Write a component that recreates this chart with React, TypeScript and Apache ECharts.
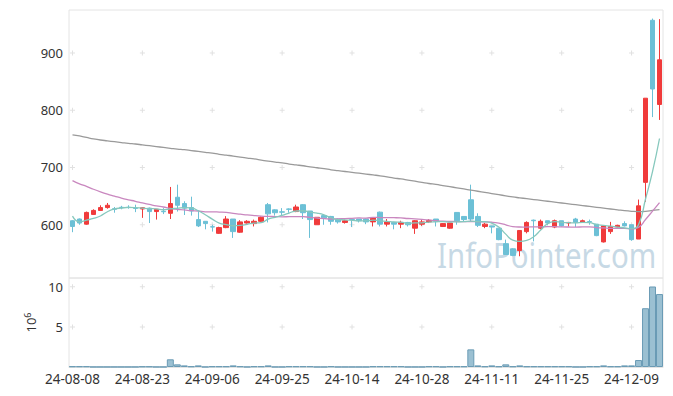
import React, { useEffect, useRef } from 'react';
import * as echarts from 'echarts';

const dates = [
  '24-08-08','24-08-09','24-08-12','24-08-13','24-08-14','24-08-16','24-08-19','24-08-20','24-08-21','24-08-22',
  '24-08-23','24-08-26','24-08-27','24-08-28','24-08-29','24-08-30','24-09-02','24-09-03','24-09-04','24-09-05',
  '24-09-06','24-09-09','24-09-10','24-09-11','24-09-12','24-09-13','24-09-19','24-09-20','24-09-23','24-09-24',
  '24-09-25','24-09-26','24-09-27','24-09-30','24-10-02','24-10-04','24-10-07','24-10-08','24-10-10','24-10-11',
  '24-10-14','24-10-15','24-10-16','24-10-17','24-10-18','24-10-21','24-10-22','24-10-23','24-10-24','24-10-25',
  '24-10-28','24-10-29','24-10-30','24-10-31','24-11-01','24-11-04','24-11-05','24-11-06','24-11-07','24-11-08',
  '24-11-11','24-11-12','24-11-13','24-11-14','24-11-15','24-11-18','24-11-19','24-11-20','24-11-21','24-11-22',
  '24-11-25','24-11-26','24-11-27','24-11-28','24-11-29','24-12-02','24-12-03','24-12-04','24-12-05','24-12-06',
  '24-12-09','24-12-10','24-12-11','24-12-12','24-12-13'
];

const opens = [
  607,610,601,618,625,630,628,630.5,630.5,629,
  627.5,629,623,623.5,620,648,637,630,609,606,
  596.5,585,595,610,587,603,602,606,635,626,
  622.5,627.5,623,635,624,600,616,614.5,610,604,
  609.5,610,610,605,622,601,604,601,604,594,
  601,605,610,597,594,621.5,614.5,643.6,614.5,597,
  598,594,567,558,555,588,608,594,607,596,
  607,603,610,604,605.5,601,570,588,596,602,
  600,575,674,957,810
];
const closes = [
  597,603,621.5,625,630,634,627,630,630,628.5,
  629.7,623,627,622.7,637,634,629,624,598,602,
  596,595,610,588,605,606,606,613,619,621,
  622,627,631,621,609,613,612,606,605,607,
  609,607,605,612,601,605,601,604,600,607,
  605,607.6,606,602,603,607,609,610,599,601,
  596,574,548,546.5,590,604,607,606,603,607,
  598,604,604,607,605,581,598,597,599,598,
  574,633,821,837,888
];
const lows = [
  587,600,600,617,624,628,621,627,628,622,
  612,603,609,618.6,610,623,617,616,596,592,
  588,584,594,577,586,602,597,605,604,616,
  616,621,622,610,577,600,600,600,602,602,
  596,604,601,597,597,597,592,594,597,584,
  598,603,597,596,593,600,606,606,596,594,
  585,573,548,545,545,585,571,592,599,594,
  597,597,596,603,600,580,569,584,595,597,
  572,575,640,788,783
];
const highs = [
  608,611,623,627,634,638,631,633,634,635,
  630.5,630,627.5,629,666,670,641,649,625,606.5,
  600,596.5,615,610,608,608,609,614.5,638,627,
  629,628.5,635,636,624,613,617,615.5,611,609,
  610,610,611,613,623,610,605,607,605,608,
  609,610,610,603,603,622,614.5,670,620,603,
  598,594,574,559,590,606,609,609,607,609,
  607,605,612,609,609,601,598,605,600,606,
  600,644,821,960,959
];

// volume, millions of shares
const volumes = [
  0.08,0.08,0.08,0.01,0.01,0.01,0.01,0.01,0.01,0.01,
  0.06,0.06,0.01,0.01,0.96,0.33,0.2,0.08,0.2,0.01,
  0.08,0.08,0.08,0.2,0.08,0.01,0.08,0.08,0.2,0.01,
  0.01,0.08,0.08,0.08,0.08,0.01,0.01,0.08,0.01,0.01,
  0.01,0.01,0.01,0.08,0.08,0.08,0.08,0.08,0.01,0.01,
  0.01,0.08,0.08,0.01,0.08,0.08,0.08,2.2,0.2,0.08,
  0.2,0.08,0.33,0.08,0.2,0.08,0.08,0.08,0.08,0.08,
  0.08,0.08,0.01,0.01,0.08,0.08,0.2,0.08,0.08,0.2,
  0.2,0.87,7.33,10.04,9.1
];

// first values of the averages (need history before the window)
const ma5Head = [615, 605, 608, 611];
const ma20Head = [677, 671.5, 667, 662, 657.5, 653.5, 650, 646.5, 643.6, 641, 638, 635.5, 633, 631, 628.5, 627, 626, 624.5, 624];
const ma120 = [
  757,755,752.5,750,748,746.5,745,743.5,742,741,
  739.5,738,736.5,735,733.5,732,731,729.5,728,726.5,
  725,723,721.5,720,718,716.5,715,713,711,709.5,
  708,706,704.5,703,701,699.5,698,696,694.5,693,
  691.5,690,688.5,687,685.5,683.5,681.5,680,678,676,
  674,672,670.5,668.5,666.5,664.5,662.5,660.5,658.5,656.5,
  654.5,652.5,650.5,648.5,647,645.5,644,642.5,641,639.5,
  638,636.5,635,633.5,632,630.5,629,627.5,626,624.5,
  623.5,623,623.5,625,626.5
];

const priceTicks = [600, 700, 800, 900];
const volTicks = [5, 10];
const labelEvery = 10;

function movingAvg(head: number[], n: number): number[] {
  return closes.map((_, i) => {
    if (i < head.length) return head[i];
    let s = 0;
    for (let k = i - n + 1; k <= i; k++) s += closes[k];
    return +(s / n).toFixed(2);
  });
}

const FONT = 'Noto Sans';
const CROSS = 'path://M0 2h5v1H0zM2 0h1v5H2z';

export default function App() {
  const ref = useRef<HTMLDivElement>(null);
  useEffect(() => {
    document.body.style.margin = '0';
    const chart = echarts.init(ref.current!, undefined, { renderer: 'svg' });
    const candles = dates.map((_, i) => [opens[i], closes[i], lows[i], highs[i]]);
    const tickIdx = dates.map((_, i) => i).filter((i) => i % labelEvery === 0);
    const priceCross: number[][] = [];
    tickIdx.forEach((i) => priceTicks.forEach((v) => priceCross.push([i, v])));
    const volCross: number[][] = [];
    tickIdx.forEach((i) => volTicks.forEach((v) => volCross.push([i, v])));

    chart.setOption({
      animation: false,
      textStyle: { fontFamily: FONT },
      grid: [
        { left: 69, right: 10, top: 10, height: 268, show: true, borderColor: '#e4e4e4', borderWidth: 1 },
        { left: 69, right: 10, top: 278, height: 89, show: true, borderColor: '#e4e4e4', borderWidth: 1 },
      ],
      xAxis: [
        {
          type: 'category', gridIndex: 0, data: dates, boundaryGap: true,
          axisLine: { show: false }, axisTick: { show: false }, axisLabel: { show: false }, splitLine: { show: false },
        },
        {
          type: 'category', gridIndex: 1, data: dates, boundaryGap: true,
          axisLine: { show: true, lineStyle: { color: '#e4e4e4' } }, axisTick: { show: false },
          axisLabel: { interval: labelEvery - 1, color: '#333', fontSize: 13.5, margin: 5, fontFamily: FONT },
          splitLine: { show: false },
        },
      ],
      yAxis: [
        {
          type: 'value', gridIndex: 0, min: 507, max: 975, scale: true,
          axisLine: { show: false }, axisTick: { show: false }, splitLine: { show: false },
          axisLabel: {
            color: '#333', fontSize: 13, margin: 6, fontFamily: FONT, showMinLabel: false, showMaxLabel: false,
            formatter: (v: number) => (priceTicks.includes(v) ? String(v) : ''),
          },
        },
        {
          type: 'value', gridIndex: 1, min: 0, max: 11.1, interval: 5,
          name: '{a|10}{b|6}', nameLocation: 'middle', nameGap: 29, nameRotate: 90,
          nameTextStyle: {
            color: '#333',
            rich: {
              a: { fontSize: 13, fontFamily: FONT, color: '#333', lineHeight: 16 },
              b: { fontSize: 9, fontFamily: FONT, color: '#333', verticalAlign: 'top', lineHeight: 16 },
            },
          },
          axisLine: { show: false }, axisTick: { show: false }, splitLine: { show: false },
          axisLabel: {
            color: '#333', fontSize: 13, margin: 6, fontFamily: FONT,
            formatter: (v: number) => (volTicks.includes(v) ? String(v) : ''),
          },
        },
      ],
      graphic: [
        {
          type: 'text', x: 437, y: 236, scaleX: 0.84, z: 0, silent: true,
          style: { text: 'InfoPointer.com', fontSize: 35, fontFamily: FONT, fill: '#c7d9e5', verticalAlign: 'top' },
        },
      ],
      series: [
        {
          type: 'scatter', xAxisIndex: 0, yAxisIndex: 0, data: priceCross, symbol: CROSS, symbolSize: 5,
          itemStyle: { color: '#d9d9d9' }, silent: true, z: 1,
        },
        {
          type: 'scatter', xAxisIndex: 1, yAxisIndex: 1, data: volCross, symbol: CROSS, symbolSize: 5,
          itemStyle: { color: '#d9d9d9' }, silent: true, z: 1,
        },
        {
          type: 'candlestick', xAxisIndex: 0, yAxisIndex: 0, data: candles, barWidth: 5,
          itemStyle: { color: '#f03b3b', color0: '#6cc0d6', borderColor: '#f03b3b', borderColor0: '#6cc0d6', borderWidth: 1 },
        },
        {
          type: 'line', xAxisIndex: 0, yAxisIndex: 0, data: ma120, showSymbol: false, smooth: true,
          lineStyle: { color: '#9a9a9a', width: 1.3 }, z: 3,
        },
        {
          type: 'line', xAxisIndex: 0, yAxisIndex: 0, data: movingAvg(ma20Head, 20), showSymbol: false, smooth: true,
          lineStyle: { color: '#c987bf', width: 1.3 }, z: 3,
        },
        {
          type: 'line', xAxisIndex: 0, yAxisIndex: 0, data: movingAvg(ma5Head, 5), showSymbol: false, smooth: true,
          lineStyle: { color: '#86c8bd', width: 1.3 }, z: 3,
        },
        {
          type: 'bar', xAxisIndex: 1, yAxisIndex: 1, data: volumes, barWidth: '100%',
          itemStyle: { color: '#9bc0d2', borderColor: '#6a9bb5', borderWidth: 1 },
        },
      ],
    });
    return () => chart.dispose();
  }, []);
  return <div ref={ref} style={{ width: 673, height: 396 }} />;
}
